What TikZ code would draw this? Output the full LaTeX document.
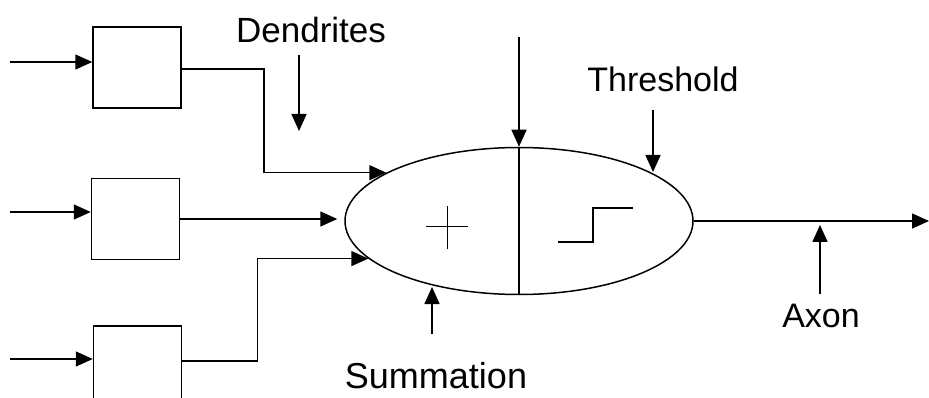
\documentclass[tikz,border=0pt]{standalone}
\usepackage{fontspec}
\setmainfont{Liberation Sans}
\usetikzlibrary{arrows.meta,shapes.geometric}
\begin{document}
\begin{tikzpicture}[x=1pt,y=-1pt,
  line width=1.5pt, line join=miter,
  arr/.style={-{Triangle[length=17pt,width=15pt]}},
  inbox/.style={draw, minimum width=88pt, minimum height=81pt, inner sep=0pt},
  lbl/.style={font=\fontsize{34}{40}\selectfont, inner sep=0pt}]
\useasboundingbox (0,0) rectangle (929,398);
\clip (0,0) rectangle (929,398);
\fill[white] (0,0) rectangle (929,398);

% input boxes
\node[inbox] (b1) at (137,67.5) {};
\node[inbox] (b2) at (135.5,219) {};
\node[inbox, minimum height=90pt] (b3) at (137.5,371) {};

% neuron body
\node[draw, ellipse, minimum width=348pt, minimum height=147pt, inner sep=0pt] (el) at (519,221) {};
\draw (el.north) -- (el.south);

% plus sign
\coordinate (plus) at (447,227);
\draw[line width=1pt] (plus) ++(-21,0) -- ++(42,0);
\draw[line width=1pt] (plus) ++(0,-21) -- ++(0,43);

% step function
\coordinate (st) at (558,242);
\draw (st) -- ++(35,0) -- ++(0,-34) -- ++(40,0);

% inputs
\coordinate (i1) at (10,62);
\coordinate (i2) at (10,212);
\coordinate (i3) at (10,359);
\draw[arr] (i1) -- (i1 -| b1.west);
\draw[arr] (i2) -- (i2 -| b2.west);
\draw[arr] (i3) -- (i3 -| b3.west);

% dendrites to body
\draw[arr] ([yshift=-1.5pt]b1.east) -- ++(82,0) |- (el.160);
\draw[arr, shorten >=7pt] (b2.east) -- (b2.east -| el.west);
\draw[arr] ([yshift=10pt]b3.east) -- ++(75,0) |- (el.194);

% top input
\coordinate (topin) at (519,37);
\draw[arr] (topin) -- (el.north);

% axon
\coordinate (axend) at (929,221);
\draw[arr] (el.east) -- (axend);

% labels
\node[lbl, font=\fontsize{35}{40}\selectfont] (dend) at (311,30) {Dendrites};
\node[lbl] (thr) at (663,79) {Threshold};
\node[lbl, font=\fontsize{36}{40}\selectfont] (sum) at (436,376) {Summation};
\node[lbl] (axon) at (821,316) {Axon};

% label arrows
\coordinate (dA) at (299,55);  \coordinate (dB) at (299,131);
\coordinate (tA) at (653,110); \coordinate (tB) at (653,172);
\coordinate (sA) at (432,334); \coordinate (sB) at (432,287);
\coordinate (aA) at (820,294); \coordinate (aB) at (820,225);
\draw[arr] (dA) -- (dB);
\draw[arr] (tA) -- (tB);
\draw[arr] (sA) -- (sB);
\draw[arr] (aA) -- (aB);
\end{tikzpicture}
\end{document}
